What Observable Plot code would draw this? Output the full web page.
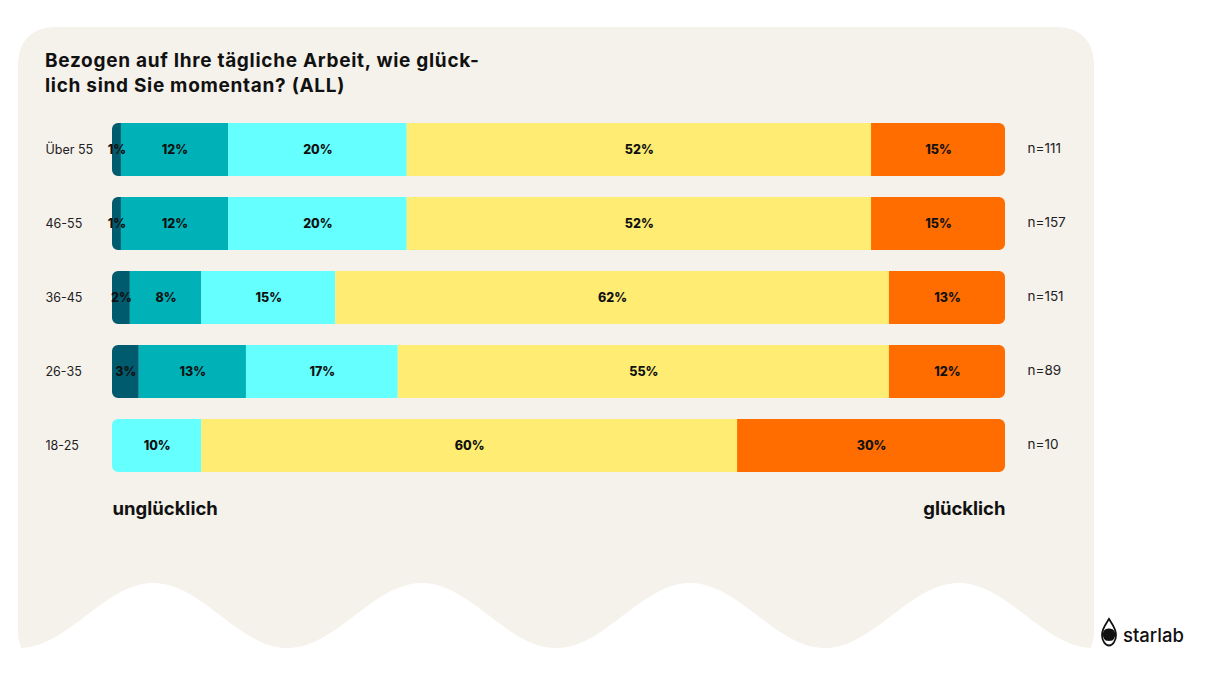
<!DOCTYPE html>
<html>
<head>
<meta charset="utf-8">
<script src="https://cdn.jsdelivr.net/npm/d3@7"></script>
<script src="https://cdn.jsdelivr.net/npm/@observablehq/plot@0.6"></script>
<style>
  html, body { margin: 0; padding: 0; background: #ffffff; }
  #wrap { position: relative; width: 1210px; height: 681px; overflow: hidden; font-family: Inter, "Open Sans", sans-serif; }
  #bg { position: absolute; left: 0; top: 0; }
  #title { position: absolute; left: 45px; top: 48px; font-size: 19px; font-weight: 700; line-height: 25px; color: #111; letter-spacing: 0.7px; }
  #chart { position: absolute; left: 0; top: 0; }
  #logo { position: absolute; left: 1100px; top: 616px; }
</style>
</head>
<body>
<div id="wrap">
  <svg id="bg" width="1210" height="681"></svg>
  <div id="title">Bezogen auf Ihre tägliche Arbeit, wie glück-<br>lich sind Sie momentan? (ALL)</div>
  <div id="chart"></div>
  <svg id="logo" width="90" height="36" viewBox="0 0 90 36">
    <path d="M9,3 C6,8 2,12 2,19 C2,25 5.5,29.5 9,29.5 C12.5,29.5 16,25 16,19 C16,12 12,8 9,3 Z" fill="none" stroke="#111" stroke-width="1.8"/>
    <path d="M3.2,16 C4,13.5 6.5,12.5 9,12.5 C11.5,12.5 14,13.5 14.8,16 C15.5,19 15,22 13,24 C11,25.2 7,25.2 5,24 C3,22 2.6,19 3.2,16 Z" fill="#111"/>
    <text x="23" y="26" font-family="Inter, 'Open Sans', sans-serif" font-size="18.5" font-weight="500" fill="#111">starlab</text>
  </svg>
</div>
<script>
// ---------- data ----------
const categories = ["Über 55", "46-55", "36-45", "26-35", "18-25"];
const levels = ["sehr unglücklich", "unglücklich", "neutral", "glücklich", "sehr glücklich"];
// bar lengths (share in %, as drawn)
const sehrUngluecklich = [1, 1, 2, 3, 0];
const ungluecklich     = [12, 12, 8, 12, 0];
const neutral          = [20, 20, 15, 17, 10];
const gluecklich       = [52, 52, 62, 55, 60];
const sehrGluecklich   = [15, 15, 13, 13, 30];
// labels as printed on the bars
const sehrUngluecklichLabel = ["1%", "1%", "2%", "3%", ""];
const ungluecklichLabel     = ["12%", "12%", "8%", "13%", ""];
const neutralLabel          = ["20%", "20%", "15%", "17%", "10%"];
const gluecklichLabel       = ["52%", "52%", "62%", "55%", "60%"];
const sehrGluecklichLabel   = ["15%", "15%", "13%", "12%", "30%"];
const nLabels = ["n=111", "n=157", "n=151", "n=89", "n=10"];
const levelColors = ["#005b6e", "#00b2b8", "#66ffff", "#ffec73", "#ff6d00"];
const axisLeftLabel = "unglücklich";
const axisRightLabel = "glücklich";

// ---------- background card ----------
(function drawCard() {
  const svg = d3.select("#bg");
  const x0 = 18, x1 = 1094, top = 27, r = 38;
  const waveY = x => 615.5 + 32.5 * Math.cos(2 * Math.PI * (x - 19) / 268.5);
  let d = `M${x0},${top + r} Q${x0},${top} ${x0 + r},${top} L${x1 - r},${top} Q${x1},${top} ${x1},${top + r} L${x1},${waveY(x1)}`;
  for (let x = x1; x >= x0; x -= 2) d += ` L${x},${waveY(x)}`;
  d += ` L${x0},${waveY(x0)} Z`;
  svg.append("defs").append("clipPath").attr("id", "cardclip")
    .append("rect").attr("x", x0).attr("y", top).attr("width", x1 - x0).attr("height", 640).attr("rx", 34);
  svg.append("path").attr("d", d).attr("fill", "#f5f1eb").attr("clip-path", "url(#cardclip)");
})();

// ---------- table ----------
const series = [sehrUngluecklich, ungluecklich, neutral, gluecklich, sehrGluecklich];
const seriesLabels = [sehrUngluecklichLabel, ungluecklichLabel, neutralLabel, gluecklichLabel, sehrGluecklichLabel];
const rows = [];
categories.forEach((c, i) => {
  levels.forEach((l, j) => {
    rows.push({cat: c, level: l, value: series[j][i], label: seriesLabels[j][i]});
  });
});
const nRows = categories.map((c, i) => ({cat: c, n: nLabels[i]}));

// round the outer ends of each stacked bar with a clip path
let clipCount = 0;
function roundEnds(index, scales, values, dimensions, context, next) {
  const g = next(index, scales, values, dimensions, context);
  const rects = Array.from(g.querySelectorAll("rect"));
  const groups = new Map();
  for (const r of rects) {
    const y = +r.getAttribute("y"), h = +r.getAttribute("height");
    const x = +r.getAttribute("x"), w = +r.getAttribute("width");
    const key = y.toFixed(2);
    const cur = groups.get(key) || {y, h, min: Infinity, max: -Infinity};
    cur.min = Math.min(cur.min, x); cur.max = Math.max(cur.max, x + w);
    groups.set(key, cur);
  }
  const ns = "http://www.w3.org/2000/svg";
  const id = "barclip" + (clipCount++);
  const cp = document.createElementNS(ns, "clipPath");
  cp.setAttribute("id", id);
  for (const gr of groups.values()) {
    const rr = document.createElementNS(ns, "rect");
    rr.setAttribute("x", gr.min); rr.setAttribute("y", gr.y);
    rr.setAttribute("width", gr.max - gr.min); rr.setAttribute("height", gr.h);
    rr.setAttribute("rx", 6); rr.setAttribute("ry", 6);
    cp.appendChild(rr);
  }
  g.insertBefore(cp, g.firstChild);
  g.setAttribute("clip-path", `url(#${id})`);
  return g;
}

const chart = Plot.plot({
  width: 1210,
  height: 681,
  marginLeft: 112,
  marginRight: 205,
  marginTop: 100,
  marginBottom: 187,
  style: {background: "transparent", fontFamily: "Inter, 'Open Sans', sans-serif"},
  x: {domain: [0, 100], axis: null},
  y: {domain: categories, axis: null, padding: 0.284},
  color: {domain: levels, range: levelColors},
  marks: [
    Plot.barX(rows, Plot.stackX({x: "value", y: "cat", fill: "level", order: null, render: roundEnds})),
    Plot.text(rows, Plot.stackX({x: "value", y: "cat", text: "label", order: null, fontWeight: 800, fontSize: 12.5, letterSpacing: 0.3, fill: "#111"})),
    Plot.text(categories, {y: d => d, text: d => d, frameAnchor: "left", dx: -67, textAnchor: "start", fontSize: 12.5, fill: "#222"}),
    Plot.text(nRows, {y: "cat", text: "n", frameAnchor: "right", dx: 22, dy: -1.5, textAnchor: "start", fontSize: 13.5, letterSpacing: 0.3, fill: "#222"}),
    Plot.text([axisLeftLabel], {text: d => d, frameAnchor: "bottom-left", dy: 20, textAnchor: "start", fontSize: 18.5, letterSpacing: 0.7, fontWeight: 700, fill: "#111"}),
    Plot.text([axisRightLabel], {text: d => d, frameAnchor: "bottom-right", dy: 20, textAnchor: "end", fontSize: 18.5, letterSpacing: 0.7, fontWeight: 700, fill: "#111"})
  ]
});
document.getElementById("chart").appendChild(chart);
</script>
</body>
</html>
